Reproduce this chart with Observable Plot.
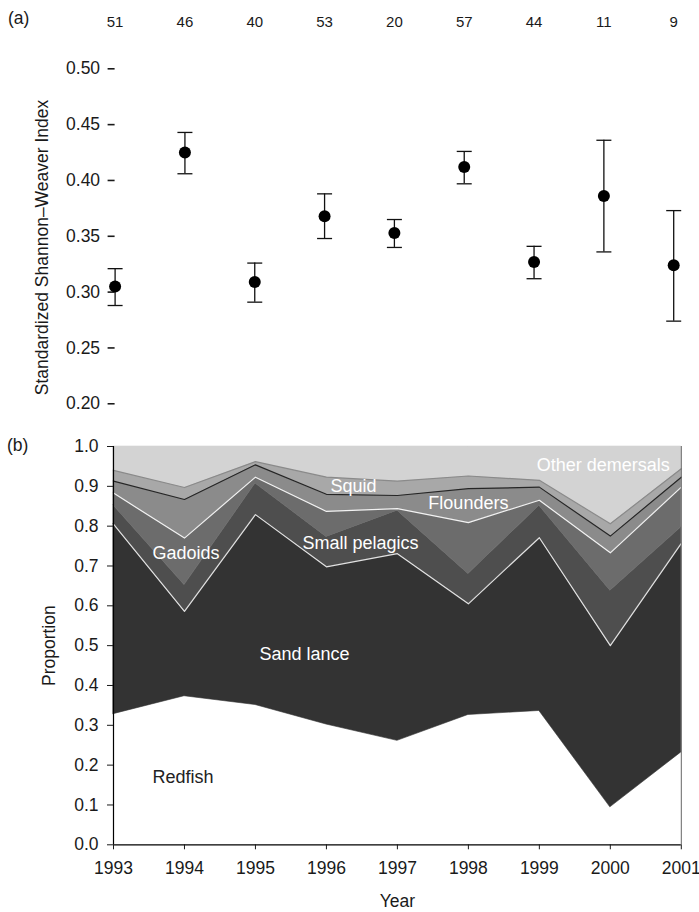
<!DOCTYPE html>
<html>
<head>
<meta charset="utf-8">
<script src="https://cdn.jsdelivr.net/npm/d3@7"></script>
<script src="https://cdn.jsdelivr.net/npm/@observablehq/plot@0.6"></script>
<style>
  html, body { margin: 0; padding: 0; background: #fff; }
  #wrap { position: relative; width: 699px; height: 912px; overflow: hidden;
          font-family: "Liberation Sans", Arial, Helvetica, sans-serif; color: #1a1a1a; }
  #panelA, #panelB { position: absolute; left: 0; }
  #panelA { top: 0; }
  #panelB { top: 430px; }
  .tag { position: absolute; font-size: 17.5px; line-height: 1; }
</style>
</head>
<body>
<div id="wrap">
  <div id="panelA"></div>
  <div id="panelB"></div>
  <span class="tag" style="left:8px;top:10px;">(a)</span>
  <span class="tag" style="left:7px;top:437px;">(b)</span>
</div>
<script>
// ---------- Data ----------
const years = [1993, 1994, 1995, 1996, 1997, 1998, 1999, 2000, 2001];
const sampleSizes = [51, 46, 40, 53, 20, 57, 44, 11, 9];

// Panel (a): standardized Shannon–Weaver index, with error bar limits
const diversity = [0.305, 0.425, 0.309, 0.368, 0.353, 0.412, 0.327, 0.386, 0.324];
const diversityUpper = [0.321, 0.443, 0.326, 0.388, 0.365, 0.426, 0.341, 0.436, 0.373];
const diversityLower = [0.288, 0.406, 0.291, 0.348, 0.340, 0.397, 0.312, 0.336, 0.274];
const yTicksA = [0.20, 0.25, 0.30, 0.35, 0.40, 0.45, 0.50];

// Panel (b): diet proportions by prey group
const speciesNames = ["Redfish", "Sand lance", "Small pelagics", "Gadoids", "Flounders", "Squid", "Other demersals"];
const redfish        = [0.328, 0.373, 0.351, 0.302, 0.261, 0.326, 0.336, 0.094, 0.232];
const sandLance      = [0.477, 0.213, 0.478, 0.396, 0.470, 0.279, 0.435, 0.406, 0.525];
const smallPelagics  = [0.047, 0.066, 0.078, 0.075, 0.108, 0.075, 0.080, 0.138, 0.040];
const gadoids        = [0.031, 0.118, 0.016, 0.064, 0.005, 0.129, 0.014, 0.095, 0.101];
const flounders      = [0.030, 0.097, 0.031, 0.043, 0.033, 0.085, 0.033, 0.042, 0.025];
const squid          = [0.027, 0.030, 0.008, 0.043, 0.036, 0.032, 0.017, 0.031, 0.021];
const otherDemersals = [0.060, 0.103, 0.038, 0.077, 0.087, 0.074, 0.085, 0.194, 0.056];
const yTicksB = [0, 0.1, 0.2, 0.3, 0.4, 0.5, 0.6, 0.7, 0.8, 0.9, 1.0];

// Annotation anchors (data space) for the in-area labels
const labelYears  = [1993.98, 1995.69, 1996.48, 1994.02, 1998.0, 1996.38, 1999.9];
const labelValues = [0.170, 0.478, 0.756, 0.733, 0.858, 0.900, 0.952];

// ---------- Styles ----------
const FONT = '"Liberation Sans", Arial, Helvetica, sans-serif';
const greys = ["#ffffff", "#333333", "#4e4e4e", "#6c6c6c", "#8b8b8b", "#a8a8a8", "#d3d3d3"];

// ---------- Panel (a) ----------
const ptsA = years.map((year, i) => ({
  year, n: sampleSizes[i], mean: diversity[i], lo: diversityLower[i], hi: diversityUpper[i]
}));
const capSymbol = { draw(ctx) { ctx.moveTo(-7.5, 0); ctx.lineTo(7.5, 0); } };

const plotA = Plot.plot({
  width: 699, height: 430,
  marginTop: 68.3, marginRight: 25.8, marginBottom: 4.4, marginLeft: 114.6,
  style: { fontFamily: FONT, fontSize: "17.5px", color: "#1a1a1a", background: "transparent", overflow: "visible" },
  x: { domain: [1993, 2001] },
  y: { domain: [0.18, 0.5] },
  marks: [
    Plot.axisY({ ticks: yTicksA, tickFormat: d3.format(".2f"), tickSize: 7, tickPadding: 8,
                 strokeWidth: 1.6,
                 label: "Standardized Shannon\u2013Weaver Index", labelAnchor: "center",
                 labelOffset: 80, labelArrow: "none" }),
    Plot.axisX({ anchor: "top", ticks: years, tickFormat: d => String(sampleSizes[years.indexOf(d)]),
                 tickSize: 0, tickPadding: 42, fontSize: 15, label: null }),
    Plot.ruleX(ptsA, { x: "year", y1: "lo", y2: "hi", stroke: "#111", strokeWidth: 1.3 }),
    Plot.dot(ptsA, { x: "year", y: "hi", symbol: capSymbol, stroke: "#111", strokeWidth: 1.3 }),
    Plot.dot(ptsA, { x: "year", y: "lo", symbol: capSymbol, stroke: "#111", strokeWidth: 1.3 }),
    Plot.dot(ptsA, { x: "year", y: "mean", r: 6, fill: "#000", stroke: "none" })
  ]
});
document.getElementById("panelA").appendChild(plotA);

// ---------- Panel (b) ----------
const layers = [redfish, sandLance, smallPelagics, gadoids, flounders, squid, otherDemersals];
const tidy = years.flatMap((year, i) => speciesNames.map((species, k) => ({ year, species, value: layers[k][i] })));
const tops = speciesNames.map((_, k) =>
  years.map((year, i) => ({ year, v: d3.sum(layers.slice(0, k + 1), a => a[i]) })));
const labelsB = speciesNames.map((name, k) => ({ name, year: labelYears[k], v: labelValues[k] }));

const plotB = Plot.plot({
  width: 699, height: 482,
  marginTop: 16, marginRight: 18.2, marginBottom: 67.7, marginLeft: 113,
  style: { fontFamily: FONT, fontSize: "17.5px", color: "#1a1a1a", background: "transparent", overflow: "visible" },
  x: { domain: [1993, 2001] },
  y: { domain: [0, 1] },
  color: { domain: speciesNames, range: greys },
  marks: [
    Plot.areaY(tidy, Plot.stackY({ x: "year", y: "value", z: "species", fill: "species",
                                   stroke: "species", strokeWidth: 0.6, order: speciesNames })),
    Plot.line(tops[1], { x: "year", y: "v", stroke: "#e2e2e2", strokeWidth: 1.2 }),
    Plot.line(tops[3], { x: "year", y: "v", stroke: "#f2f2f2", strokeWidth: 1.2 }),
    Plot.line(tops[4], { x: "year", y: "v", stroke: "#262626", strokeWidth: 1.2 }),
    Plot.line(tops[5], { x: "year", y: "v", stroke: "#8a8a8a", strokeWidth: 1.2 }),
    Plot.ruleX([2001], { stroke: "#666", strokeWidth: 1 }),
    Plot.ruleX([1993], { stroke: "#000", strokeWidth: 1.2 }),
    Plot.ruleY([0], { stroke: "#000", strokeWidth: 1.2 }),
    Plot.axisY({ ticks: yTicksB, tickFormat: d3.format(".1f"), tickSize: 6, tickPadding: 9,
                 label: "Proportion", labelAnchor: "center", labelOffset: 71, labelArrow: "none" }),
    Plot.axisX({ ticks: years, tickFormat: d3.format("d"), tickSize: 5, tickPadding: 12,
                 label: "Year", labelAnchor: "center", labelOffset: 62, labelArrow: "none" }),
    Plot.text(labelsB.filter(d => d.name !== "Redfish"),
              { x: "year", y: "v", text: "name", fill: "#ffffff", fontSize: 18 }),
    Plot.text(labelsB.filter(d => d.name === "Redfish"),
              { x: "year", y: "v", text: "name", fill: "#222222", fontSize: 18 })
  ]
});
document.getElementById("panelB").appendChild(plotB);
</script>
</body>
</html>
